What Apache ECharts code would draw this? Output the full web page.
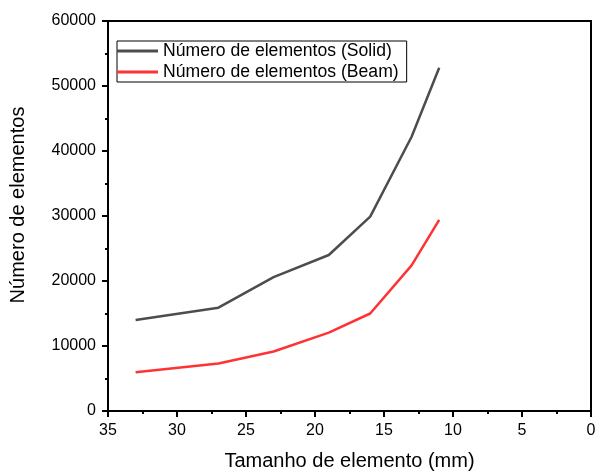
<!DOCTYPE html>
<html>
<head>
<meta charset="utf-8">
<script src="https://cdn.jsdelivr.net/npm/echarts@6/dist/echarts.min.js"></script>
<style>html,body{margin:0;padding:0;background:#fff}#c{width:597px;height:471px}</style>
</head>
<body>
<div id="c"></div>
<script>
var sizes = [33, 27, 23, 19, 16, 13, 11];
var solid = [14000, 15900, 20600, 24000, 29900, 42200, 52800];
var beam = [5950, 7300, 9150, 12050, 15000, 22400, 29400];
var seriesNames = ['Número de elementos (Solid)', 'Número de elementos (Beam)'];

var chart = echarts.init(document.getElementById('c'));
var font = 'Liberation Sans, Arial, sans-serif';
chart.setOption({
  animation: false,
  grid: {left: 108, right: 6, top: 21, bottom: 60, show: true, borderColor: '#000', borderWidth: 2,
         containLabel: false, outerBoundsMode: 'none'},
  legend: {
    orient: 'vertical', left: 117, top: 41, itemWidth: 41, itemHeight: 3, itemGap: 3,
    padding: [1, 8, 1, 0],
    borderColor: '#000', borderWidth: 1, icon: 'rect',
    textStyle: {fontFamily: font, fontSize: 17.6, lineHeight: 18, color: '#000'},
    data: seriesNames
  },
  xAxis: {
    type: 'value', inverse: true, min: 0, max: 35, interval: 5,
    name: 'Tamanho de elemento (mm)', nameLocation: 'middle', nameGap: 40,
    nameTextStyle: {fontFamily: font, fontSize: 20, color: '#000'},
    axisLine: {onZero: false, lineStyle: {color: '#000', width: 2}},
    axisTick: {show: true, inside: false, length: 6, lineStyle: {color: '#000', width: 2}},
    minorTick: {show: true, splitNumber: 2, length: 3, lineStyle: {color: '#000', width: 2}},
    axisLabel: {fontFamily: font, fontSize: 16, color: '#000', margin: 12},
    splitLine: {show: false}
  },
  yAxis: {
    type: 'value', min: 0, max: 60000, interval: 10000,
    name: 'Número de elementos', nameLocation: 'middle', nameGap: 80,
    nameTextStyle: {fontFamily: font, fontSize: 20, color: '#000', padding: [0, 0, 0, 22]},
    axisLine: {show: true, onZero: false, lineStyle: {color: '#000', width: 2}},
    axisTick: {show: true, inside: false, length: 6, lineStyle: {color: '#000', width: 2}},
    minorTick: {show: true, splitNumber: 2, length: 3, lineStyle: {color: '#000', width: 2}},
    axisLabel: {fontFamily: font, fontSize: 16, color: '#000', margin: 12, formatter: function (v) { return String(v); }},
    splitLine: {show: false}
  },
  series: [
    {name: seriesNames[0], type: 'line', showSymbol: false, lineStyle: {color: '#4d4d4d', width: 2.5}, itemStyle: {color: '#4d4d4d'},
     data: sizes.map(function (s, i) { return [s, solid[i]]; })},
    {name: seriesNames[1], type: 'line', showSymbol: false, lineStyle: {color: '#ff3333', width: 2.5}, itemStyle: {color: '#ff3333'},
     data: sizes.map(function (s, i) { return [s, beam[i]]; })}
  ]
});
</script>
</body>
</html>
